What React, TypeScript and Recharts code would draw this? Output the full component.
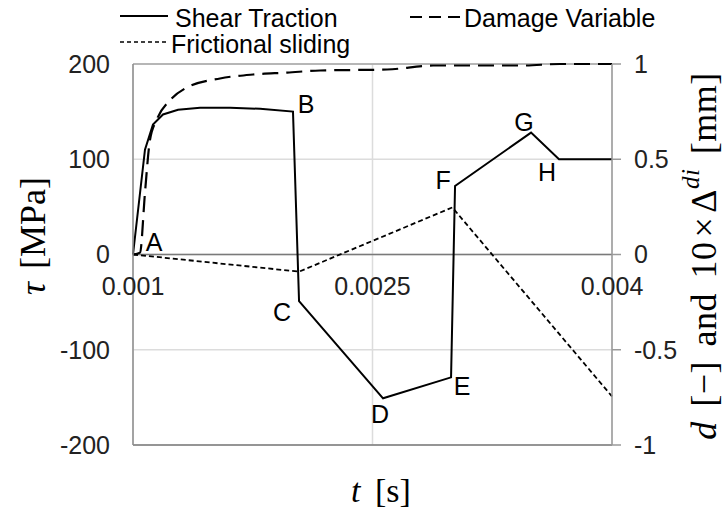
import { LineChart, Line, XAxis, YAxis, CartesianGrid, ReferenceLine, LabelList } from 'recharts'

// time [s]
const shearTime = [0.001, 0.001075, 0.001125, 0.001188, 0.001282, 0.00142, 0.001608, 0.001796, 0.002002, 0.00204, 0.002566, 0.002992, 0.003017, 0.003493, 0.003668, 0.004]
// shear traction tau [MPa]
const shearTau = [0, 110, 136.5, 147, 152, 154, 154, 153, 150, -49, -151, -129, 72, 128, 100, 100]
const shearTags = ['A', '', '', '', '', '', '', '', 'B', 'C', 'D', 'E', 'F', 'G', 'H', '']

const damageTime = [0.001, 0.001044, 0.001075, 0.001106, 0.00115, 0.001232, 0.001338, 0.001545, 0.001752, 0.001965, 0.002172, 0.002591, 0.002879, 0.003443, 0.003674, 0.004]
const damageD = [0, 0.01, 0.325, 0.6, 0.71, 0.81, 0.877, 0.924, 0.945, 0.955, 0.966, 0.971, 0.992, 0.992, 1, 1]

const slidingTime = [0.001, 0.00204, 0.003, 0.004]
const slidingDelta = [0, -0.09, 0.247, -0.745]

const xTicks = [0.001, 0.0025, 0.004]
const tauTicks = [-200, -100, 0, 100, 200]
const rightTicks = [-1, -0.5, 0, 0.5, 1]

const shearData = shearTime.map((t, i) => ({ t, tau: shearTau[i], tag: shearTags[i] }))
const damageData = damageTime.map((t, i) => ({ t, d: damageD[i] }))
const slidingData = slidingTime.map((t, i) => ({ t, delta: slidingDelta[i] }))

const W = 724
const H = 513
const PLOT_TOP = 64
const PLOT_BOTTOM = 445
const ZERO_Y = (PLOT_TOP + PLOT_BOTTOM) / 2

const SANS = '"Liberation Sans", Arial, sans-serif'
const SERIF = '"Liberation Serif", "Times New Roman", serif'
const INK = '#222'

// where each point letter sits relative to its point
const tagOffset: Record<string, [number, number]> = {
  A: [21, -13],
  B: [13, -8],
  C: [-17, 11],
  D: [-3, 16],
  E: [11, 9],
  F: [-12, -6],
  G: [-7, -11],
  H: [-12, 13],
}

// x tick labels are drawn just under the zero line, not at the bottom
const XTick = ({ x, payload }: any) => (
  <text x={x} y={ZERO_Y + 31} textAnchor="middle" dominantBaseline="central" fontFamily={SANS} fontSize={25} fill={INK}>
    {String(payload.value)}
  </text>
)

const PointTag = ({ x, y, value }: any) => {
  if (!value) return null
  const [dx, dy] = tagOffset[value] || [0, 0]
  return (
    <text x={x + dx} y={y + dy} textAnchor="middle" dominantBaseline="central" fontFamily={SANS} fontSize={25} fill="#000">
      {value}
    </text>
  )
}

const LeftTitle = () => (
  <text x={33} y={236} transform="rotate(-90, 33, 236)" textAnchor="middle" dominantBaseline="central" fontFamily={SERIF} fontSize={36} fill="#000">
    <tspan fontStyle="italic">τ</tspan>
    <tspan dx={4}>{' [MPa]'}</tspan>
  </text>
)

const RightTitle = () => (
  <text x={704} y={256} transform="rotate(-90, 704, 256)" textAnchor="middle" dominantBaseline="central" fontFamily={SERIF} fontSize={36} fill="#000" letterSpacing={0.5} wordSpacing={5}>
    <tspan fontStyle="italic">d</tspan>
    <tspan>{' [−] and 10'}</tspan>
    <tspan dx={4}>×</tspan>
    <tspan dx={4}>Δ</tspan>
    <tspan fontStyle="italic" fontSize={25} dy={-14}>di</tspan>
    <tspan dy={14}>{' [mm]'}</tspan>
  </text>
)

const BottomTitle = () => (
  <text x={381} y={490} textAnchor="middle" dominantBaseline="central" fontFamily={SERIF} fontSize={34} fill="#000">
    <tspan fontStyle="italic">t</tspan>
    <tspan dx={6}>{' [s]'}</tspan>
  </text>
)

const LegendBar = () => (
  <svg width={W} height={62} style={{ position: 'absolute', left: 0, top: 0, pointerEvents: 'none' }}>
    <line x1={120} y1={16} x2={168} y2={16} stroke="#000" strokeWidth={2} />
    <text x={175} y={27} fontFamily={SANS} fontSize={25} fill="#000">Shear Traction</text>
    <line x1={410} y1={17} x2={462} y2={17} stroke="#000" strokeWidth={2} strokeDasharray="12 7" />
    <text x={464} y={27} fontFamily={SANS} fontSize={25} fill="#000">Damage Variable</text>
    <line x1={120} y1={42} x2={168} y2={42} stroke="#000" strokeWidth={1.5} strokeDasharray="4 3" />
    <text x={171} y={53} fontFamily={SANS} fontSize={25} fill="#000">Frictional sliding</text>
  </svg>
)

export default function App() {
  return (
    <div style={{ position: 'absolute', left: 0, top: 0, width: W, height: H, background: '#fff' }}>
      <LineChart width={W} height={H} margin={{ top: PLOT_TOP, right: 0, bottom: 0, left: 0 }}>
        <CartesianGrid yAxisId="left" stroke="#dcdcdc" strokeWidth={1.5} />
        <XAxis
          dataKey="t"
          type="number"
          domain={[0.001, 0.004]}
          ticks={xTicks}
          axisLine={false}
          tickLine={false}
          tick={<XTick />}
          height={H - PLOT_BOTTOM}
          label={<BottomTitle />}
        />
        <YAxis
          yAxisId="left"
          domain={[-200, 200]}
          ticks={tauTicks}
          width={133}
          axisLine={{ stroke: '#8c8c8c', strokeWidth: 1.5 }}
          tickLine={false}
          tickSize={0}
          tickMargin={23}
          tick={{ fontFamily: SANS, fontSize: 25, fill: INK }}
          label={<LeftTitle />}
        />
        <YAxis
          yAxisId="right"
          orientation="right"
          domain={[-1, 1]}
          ticks={rightTicks}
          width={112}
          axisLine={{ stroke: '#9a9a9a', strokeWidth: 1.5 }}
          tickLine={{ stroke: '#9a9a9a', strokeWidth: 1.5 }}
          tickSize={9}
          tickMargin={13}
          tick={{ fontFamily: SANS, fontSize: 25, fill: INK, textAnchor: 'start' }}
          label={<RightTitle />}
        />
        <ReferenceLine yAxisId="left" y={200} stroke="#a6a6a6" strokeWidth={1.5} />
        <ReferenceLine yAxisId="left" y={-200} stroke="#7a7a7a" strokeWidth={1.5} />
        <ReferenceLine yAxisId="left" y={0} stroke="#7a7a7a" strokeWidth={1.5} />
        <Line
          data={slidingData}
          yAxisId="right"
          dataKey="delta"
          type="linear"
          stroke="#000"
          strokeWidth={1.8}
          strokeDasharray="5 3"
          dot={false}
          isAnimationActive={false}
        />
        <Line
          data={damageData}
          yAxisId="right"
          dataKey="d"
          type="monotone"
          stroke="#000"
          strokeWidth={2.2}
          strokeDasharray="16 8"
          dot={false}
          isAnimationActive={false}
        />
        <Line
          data={shearData}
          yAxisId="left"
          dataKey="tau"
          type="linear"
          stroke="#000"
          strokeWidth={2}
          dot={false}
          isAnimationActive={false}
        >
          <LabelList dataKey="tag" content={<PointTag />} />
        </Line>
      </LineChart>
      <LegendBar />
    </div>
  )
}
